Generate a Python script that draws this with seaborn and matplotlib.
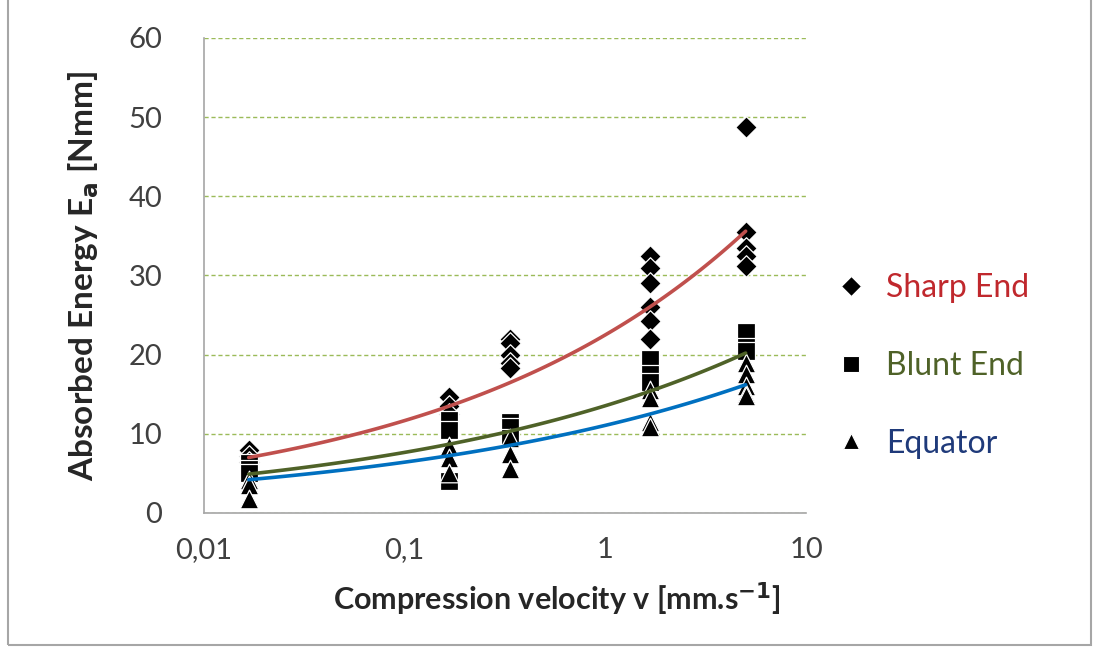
import numpy as np
import pandas as pd
import seaborn as sns
import matplotlib.pyplot as plt
from matplotlib.lines import Line2D
from matplotlib.patches import Rectangle

# compression velocities [mm/s] and absorbed energies
sharp_v = [0.0167, 0.0167, 0.0167, 0.167, 0.167, 0.167,
           0.333, 0.333, 0.333, 0.333, 0.333,
           1.67, 1.67, 1.67, 1.67, 1.67, 1.67,
           5.0, 5.0, 5.0, 5.0, 5.0]
sharp_e = [8.0, 7.2, 6.5, 14.7, 13.5, 12.5,
           22.0, 21.5, 20.0, 19.0, 18.3,
           32.5, 31.0, 29.0, 26.0, 24.3, 22.0,
           48.7, 35.5, 33.5, 32.5, 31.2]

blunt_v = [0.0167, 0.0167, 0.0167, 0.167, 0.167, 0.167,
           0.333, 0.333, 0.333, 1.67, 1.67, 1.67, 5.0, 5.0, 5.0]
blunt_e = [6.3, 5.5, 5.0, 11.8, 10.5, 4.0,
           11.5, 10.8, 9.5, 19.5, 17.5, 16.5, 22.8, 21.0, 20.5]

equator_v = [0.0167, 0.0167, 0.0167, 0.167, 0.167, 0.167,
             0.333, 0.333, 0.333, 1.67, 1.67, 1.67, 1.67,
             5.0, 5.0, 5.0, 5.0, 5.0]
equator_e = [4.2, 3.5, 1.8, 8.5, 7.0, 5.0,
             9.5, 7.5, 5.5, 15.5, 14.5, 11.5, 10.8,
             19.0, 17.5, 16.0, 15.0, 14.8]

# power trendlines E = a * v^b as shown on the chart
trend_a = [22.5, 13.55, 11.07]
trend_b = [0.285, 0.248, 0.2366]

names = ['Sharp End', 'Blunt End', 'Equator']
markers = ['D', 's', '^']
msizes = [120, 170, 180]
line_colors = ['#c0504d', '#4f6228', '#0070c0']
text_colors = ['#c0282d', '#4f6228', '#1f3a7a']

sns.set_style('white')
plt.rcParams['font.family'] = ['Lato', 'DejaVu Sans']
plt.rcParams['axes.unicode_minus'] = False

fig = plt.figure(figsize=(10.94, 6.5), dpi=100)
ax = fig.add_axes([0.1865, 0.2108, 0.5503, 0.7308])

series = [(sharp_v, sharp_e), (blunt_v, blunt_e), (equator_v, equator_e)]
for i, (v, e) in enumerate(series):
    df = pd.DataFrame({'v': v, 'E': e})
    sns.scatterplot(data=df, x='v', y='E', marker=markers[i], s=msizes[i],
                    color='black', edgecolor='white', linewidth=0.9,
                    ax=ax, zorder=3)

for i, (v, e) in enumerate(series):
    xs = np.logspace(np.log10(min(v)), np.log10(max(v)), 100)
    fit = pd.DataFrame({'v': xs, 'E': trend_a[i] * xs ** trend_b[i]})
    sns.lineplot(data=fit, x='v', y='E', color=line_colors[i], lw=2.6,
                 ax=ax, zorder=4)

ax.set_xscale('log')
ax.set_xlim(0.01, 10)
ax.set_ylim(0, 60)
ax.set_xticks([0.01, 0.1, 1, 10])
ax.set_xticklabels(['0,01', '0,1', '1', '10'])
ax.xaxis.set_minor_locator(plt.NullLocator())
ax.set_yticks(range(0, 61, 10))
ax.tick_params(axis='both', labelsize=21, colors='#a6a6a6', length=6,
               width=1.2, direction='out', labelcolor='#404040')
ax.tick_params(axis='x', pad=11)
ax.tick_params(axis='y', pad=24)

ax.grid(axis='y', color='#9bbb59', linestyle=(0, (3, 2)), linewidth=1)
ax.set_axisbelow(True)
for s in ['top', 'right']:
    ax.spines[s].set_visible(False)
for s in ['left', 'bottom']:
    ax.spines[s].set_color('#a6a6a6')
    ax.spines[s].set_linewidth(1.2)

ax.set_xlabel('Compression velocity v [mm.s$^{\\mathbf{-1}}$]', fontsize=22,
              fontweight='bold', labelpad=13)
ax.xaxis.label.set_x(0.585)
ax.set_ylabel('Absorbed Energy E$_\\mathbf{a}$ [Nmm]', fontsize=24,
              fontweight='bold', labelpad=20)

handles = [Line2D([], [], marker=markers[i], color='black', linestyle='none',
                  markersize=[10, 12, 12][i], markeredgecolor='white',
                  markeredgewidth=0.8) for i in range(3)]
leg = ax.legend(handles, names, loc='center left', bbox_to_anchor=(1.0, 0.31),
                frameon=False, fontsize=23, labelspacing=1.5,
                handletextpad=0.6, handlelength=1.0)
for t, c in zip(leg.get_texts(), text_colors):
    t.set_color(c)

# outer frame of the picture
fig.patches.append(Rectangle((0.007, 0.008), 0.99, 1.2, transform=fig.transFigure,
                             fill=False, edgecolor='#a6a6a6', lw=1.5))

fig.savefig('out.png', dpi=100)
